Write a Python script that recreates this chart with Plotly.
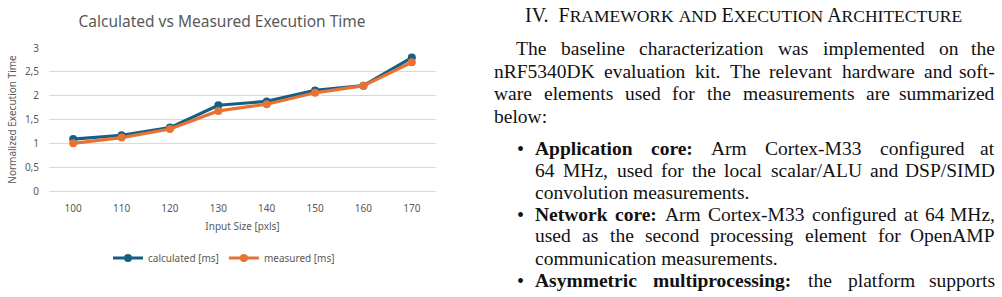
import plotly.graph_objects as go

# ---------------- data ----------------
input_size = ["100", "110", "120", "130", "140", "150", "160", "170"]
calculated = [1.09, 1.17, 1.33, 1.80, 1.88, 2.11, 2.21, 2.80]
measured = [1.00, 1.12, 1.30, 1.68, 1.82, 2.06, 2.21, 2.70]
y_ticks = [0, 0.5, 1, 1.5, 2, 2.5, 3]

chart_title = "Calculated vs Measured Execution Time"
x_title = "Input Size [pxls]"
y_title = "Normalized Execution Time"
series_names = ["calculated [ms]", "measured [ms]"]

heading = ("IV.\u00a0\u00a0F<span style='font-size:17.5px'>RAMEWORK</span> "
           "<span style='font-size:17.5px'>AND</span> "
           "E<span style='font-size:17.5px'>XECUTION</span> "
           "A<span style='font-size:17.5px'>RCHITECTURE</span>")

# (text, left px, right px, center y px, justified, bullet)
body_lines = [
    ("The baseline characterization was implemented on the", 515, 996, 48.5, True, False),
    ("nRF5340DK evaluation kit. The relevant hardware and soft-", 493, 996, 71, True, False),
    ("ware elements used for the measurements are summarized", 493, 996, 93.5, True, False),
    ("below:", 493, 996, 116, False, False),
    ("**Application **core: Arm Cortex-M33 configured at", 534, 996, 148, True, True),
    ("64 MHz, used for the local scalar/ALU and DSP/SIMD", 534, 996, 170, True, False),
    ("convolution measurements.", 534, 996, 192, False, False),
    ("**Network **core: Arm Cortex-M33 configured at 64 MHz,", 534, 996, 214, True, True),
    ("used as the second processing element for OpenAMP", 534, 996, 236, True, False),
    ("communication measurements.", 534, 996, 258, False, False),
    ("**Asymmetric **multiprocessing: the platform supports", 534, 996, 280, True, True),
]

# ---------------- layout geometry ----------------
W, H = 1002, 297
PL, PR, PT, PB = 49, 436, 48, 191  # plot area in pixels

def px_x(p):
    return (p - PL) / (PR - PL)

def px_y(p):
    return (PB - p) / (PB - PT)

C1 = "#156082"
C2 = "#E97132"
GRAY = "#595959"
FONT = "Noto Sans"

fig = go.Figure()
fig.add_trace(go.Scatter(x=input_size, y=calculated, name=series_names[0], mode="lines+markers",
                         line=dict(color=C1, width=3.2), marker=dict(size=8, color=C1)))
fig.add_trace(go.Scatter(x=input_size, y=measured, name=series_names[1], mode="lines+markers",
                         line=dict(color=C2, width=3.2), marker=dict(size=8, color=C2)))

fig.update_layout(
    width=W, height=H,
    margin=dict(l=PL, r=W - PR, t=PT, b=H - PB, autoexpand=False),
    paper_bgcolor="white", plot_bgcolor="white",
    separators=", ",
    font=dict(family=FONT, size=10, color=GRAY),
    title=dict(text=chart_title, x=222 / W, xref="container", xanchor="center",
               y=1 - 22 / H, yref="container", yanchor="middle",
               font=dict(family=FONT, size=15.5, color=GRAY)),
    showlegend=True,
    legend=dict(orientation="h", x=px_x(108), xanchor="left", y=px_y(258), yanchor="middle",
                font=dict(family=FONT, size=10, color=GRAY), bgcolor="rgba(0,0,0,0)",
                itemwidth=30, tracegroupgap=0),
)
fig.update_xaxes(type="category", range=[-0.5, 7.5], showgrid=False, showline=True,
                 linecolor="#D9D9D9", linewidth=1, ticks="", ticklabelstandoff=8,
                 tickfont=dict(size=10, color=GRAY),
                 title=dict(text=x_title, font=dict(size=10, color=GRAY), standoff=8),
                 automargin=False, fixedrange=True)
fig.update_yaxes(range=[0, 3], tickvals=y_ticks, showgrid=True, gridcolor="#D9D9D9", gridwidth=1,
                 zeroline=False, showline=False, ticks="", ticklabelstandoff=9,
                 tickfont=dict(size=10, color=GRAY),
                 title=dict(text=y_title, font=dict(size=10, color=GRAY), standoff=6),
                 automargin=False, fixedrange=True)

# ---------------- right column text ----------------
TR = {' ': 250, 'a': 444, 'b': 500, 'c': 444, 'd': 500, 'e': 444, 'f': 333, 'g': 500, 'h': 500,
      'i': 278, 'j': 278, 'k': 500, 'l': 278, 'm': 778, 'n': 500, 'o': 500, 'p': 500, 'q': 500,
      'r': 333, 's': 389, 't': 278, 'u': 500, 'v': 500, 'w': 722, 'x': 500, 'y': 500, 'z': 444,
      'A': 722, 'B': 667, 'C': 667, 'D': 722, 'E': 611, 'F': 556, 'G': 722, 'H': 722, 'I': 333,
      'J': 389, 'K': 722, 'L': 611, 'M': 889, 'N': 722, 'O': 722, 'P': 556, 'Q': 722, 'R': 667,
      'S': 556, 'T': 611, 'U': 722, 'V': 722, 'W': 944, 'X': 722, 'Y': 722, 'Z': 611,
      '.': 250, ',': 250, ':': 278, '-': 333, '/': 278}
TB = {' ': 250, 'a': 500, 'b': 556, 'c': 444, 'd': 556, 'e': 444, 'f': 333, 'g': 500, 'h': 556,
      'i': 278, 'j': 333, 'k': 556, 'l': 278, 'm': 833, 'n': 556, 'o': 500, 'p': 556, 'q': 556,
      'r': 444, 's': 389, 't': 333, 'u': 556, 'v': 500, 'w': 722, 'x': 500, 'y': 500, 'z': 444,
      'A': 722, 'N': 722, ':': 333}
FS = 19.5
SERIF = "Liberation Serif"
TXT = "#111111"

def word_w(word, bold):
    tbl = TB if bold else TR
    return sum(tbl.get(ch, 500) for ch in word) * FS / 1000.0

def add_word(word, bold, x, y, anchor, size=FS):
    fig.add_annotation(text=("<b>%s</b>" % word) if bold else word, x=px_x(x), y=px_y(y),
                       xref="paper", yref="paper", xanchor=anchor, yanchor="middle",
                       showarrow=False, borderpad=0,
                       font=dict(family=SERIF, size=size, color=TXT))

for text, left, right, yc, just, bullet in body_lines:
    words = []
    if text.startswith("**"):
        bpart, rest = text[2:].split(" **", 1)
        bwords = bpart.split() + [rest.split()[0]]
        words += [(w, True) for w in bwords]
        words += [(w, False) for w in rest.split()[1:]]
    else:
        words = [(w, False) for w in text.split()]
    if bullet:
        add_word("\u2022", False, left - 18, yc + 1, "left", size=20)
    if just and len(words) > 1:
        total = sum(word_w(w, b) for w, b in words)
        gap = (right - left - total) / (len(words) - 1)
        x = left
        for i, (w, b) in enumerate(words):
            if i == len(words) - 1:
                add_word(w, b, right, yc, "right")
            else:
                add_word(w, b, x, yc, "left")
            x += word_w(w, b) + gap
    else:
        fig.add_annotation(text=" ".join(("<b>%s</b>" % w) if b else w for w, b in words),
                           x=px_x(left), y=px_y(yc), xref="paper", yref="paper",
                           xanchor="left", yanchor="middle", showarrow=False, borderpad=0,
                           font=dict(family=SERIF, size=FS, color=TXT))

fig.add_annotation(text=heading, x=px_x(743), y=px_y(15), xref="paper", yref="paper",
                   xanchor="center", yanchor="middle", showarrow=False, borderpad=0,
                   font=dict(family=SERIF, size=20, color=TXT))

fig.write_html("out.html", config={"displayModeBar": False})
